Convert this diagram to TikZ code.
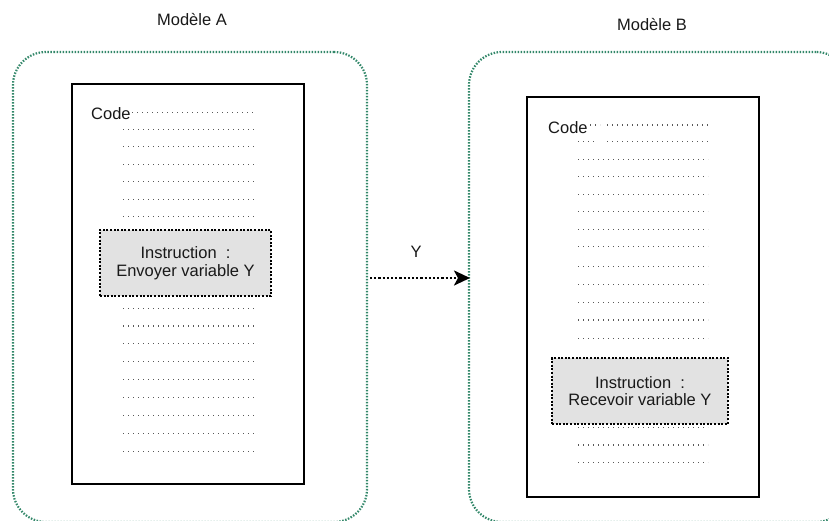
\documentclass[tikz,border=0pt]{standalone}
\usepackage{fontspec}
\setmainfont{Liberation Sans}
\usetikzlibrary{arrows.meta}
\definecolor{boxgreen}{RGB}{50,135,105}
\definecolor{txt}{RGB}{25,25,25}
\definecolor{instrfill}{RGB}{226,226,226}
\tikzset{
  outerbox/.style={draw=boxgreen, line width=2.2pt, dash pattern=on 1.5pt off 1.5pt,
    rounded corners=33pt, minimum width=#1, minimum height=470pt, inner sep=0pt},
  codebox/.style={draw=black, line width=2.6pt, minimum width=232pt, minimum height=400pt, inner sep=0pt, fill=white},
  instrbox/.style={draw=black, line width=2.6pt, dash pattern=on 2pt off 1.6pt, fill=instrfill,
    minimum width=#1, minimum height=66pt, inner sep=0pt, align=center,
    font=\fontsize{16.5}{17.5}\selectfont, text=txt},
  lbl/.style={font=\fontsize{16.5}{18}\selectfont, text=txt, inner sep=0pt},
  codeline/.style={draw=black!65, line width=1.2pt, dash pattern=on 1.2pt off 3.8pt},
  sendarrow/.style={draw=black, line width=2.6pt, dash pattern=on 2.2pt off 2pt,
    -{Stealth[length=16pt,width=15pt,inset=4pt]}}
}
\begin{document}
\begin{tikzpicture}[x=1pt,y=-1pt]
\useasboundingbox (0,0) rectangle (829,520);
\clip (0,0) rectangle (829,520);
% titles
\node[lbl] (titleA) at (192,20) {Modèle A};
\node[lbl] (titleB) at (652,25) {Modèle B};
% outer boxes
\node[outerbox=354pt] (outerA) at (190,287) {};
\node[outerbox=380pt] (outerB) at (659,287) {};
% code boxes
\node[codebox] (codeA) at (188,284) {};
\node[codebox] (codeB) at (643,297) {};
% code labels
\node[lbl, anchor=west] (codelabelA) at (91,114) {Code};
\node[lbl, anchor=west] (codelabelB) at (548,128) {Code};
% dotted code lines model A
\draw[codeline] (132,112.3) -- (255,112.3);
\foreach \y in {129.3,146.7,164.3,181.7,199.3,216.7,308.3,326,343.7,361.7,379.3,397.3,415.3,433.3,451.3}
  \draw[codeline] (123,\y) -- (255,\y);
% dotted code lines model B
\draw[codeline] (590,125) -- (600,125);
\draw[codeline] (607,125) -- (708,125);
\draw[codeline] (578,141.7) -- (597,141.7);
\draw[codeline] (607,141.7) -- (708,141.7);
\foreach \y in {159.3,176.7,194.3,211.7,229.3,246.7,266.7,284.3,302.3,320,338.3,427.7,445,462.7}
  \draw[codeline] (578,\y) -- (708,\y);
% instruction boxes
\node[instrbox=171pt] (instrA) at (185.5,263) {Instruction~~:\\Envoyer variable Y};
\node[instrbox=176pt] (instrB) at (640,391) {Instruction~~:\\Recevoir variable Y};
% arrow
\coordinate (arrowstart) at (370,278);
\coordinate (arrowend) at (470,278);
\draw[sendarrow] (arrowstart) -- (arrowend);
\node[lbl] (ylabel) at (416,252) {Y};
\end{tikzpicture}
\end{document}
